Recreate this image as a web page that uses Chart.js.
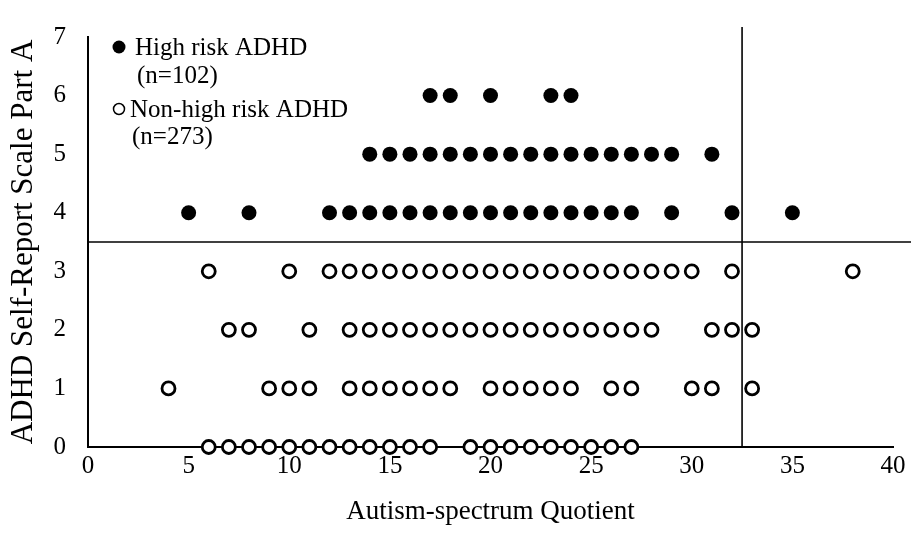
<!DOCTYPE html>
<html>
<head>
<meta charset="utf-8">
<script src="https://cdn.jsdelivr.net/npm/chart.js@4/dist/chart.umd.min.js"></script>
<style>
  html, body { margin: 0; padding: 0; background: #ffffff; }
  #wrap { width: 911px; height: 545px; }
</style>
</head>
<body>
<div id="wrap"><canvas id="c" width="911" height="545"></canvas></div>
<script>
// ---- Data (AQ score on x, ASRS Part A score on y) ----
const highRiskScore6 = [17, 18, 20, 23, 24];
const highRiskScore5 = [14, 15, 16, 17, 18, 19, 20, 21, 22, 23, 24, 25, 26, 27, 28, 29, 31];
const highRiskScore4 = [5, 8, 12, 13, 14, 15, 16, 17, 18, 19, 20, 21, 22, 23, 24, 25, 26, 27, 29, 32, 35];
const nonHighScore3 = [6, 10, 12, 13, 14, 15, 16, 17, 18, 19, 20, 21, 22, 23, 24, 25, 26, 27, 28, 29, 30, 32, 38];
const nonHighScore2 = [7, 8, 11, 13, 14, 15, 16, 17, 18, 19, 20, 21, 22, 23, 24, 25, 26, 27, 28, 31, 32, 33];
const nonHighScore1 = [4, 9, 10, 11, 13, 14, 15, 16, 17, 18, 20, 21, 22, 23, 24, 26, 27, 30, 31, 33];
const nonHighScore0 = [6, 7, 8, 9, 10, 11, 12, 13, 14, 15, 16, 17, 19, 20, 21, 22, 23, 24, 25, 26, 27];

const xTicks = [0, 5, 10, 15, 20, 25, 30, 35, 40];
const yTicks = [0, 1, 2, 3, 4, 5, 6, 7];
const asrsCutoff = 3.5;
const aqCutoff = 32.5;

const legendNames = ['High risk ADHD', 'Non-high risk ADHD'];
const legendCounts = ['(n=102)', '(n=273)'];
const xTitle = 'Autism-spectrum Quotient';
const yTitle = 'ADHD Self-Report Scale Part A';

function rowPoints(xs, score) { return xs.map(x => ({ x: x, y: score })); }

const highRiskPoints = [].concat(
  rowPoints(highRiskScore6, 6),
  rowPoints(highRiskScore5, 5),
  rowPoints(highRiskScore4, 4)
);
const nonHighPoints = [].concat(
  rowPoints(nonHighScore3, 3),
  rowPoints(nonHighScore2, 2),
  rowPoints(nonHighScore1, 1),
  rowPoints(nonHighScore0, 0)
);

const SERIF = '"Liberation Serif", "Times New Roman", serif';

const cutoffLines = {
  id: 'cutoffLines',
  beforeDatasetsDraw(chart) {
    const { ctx, chartArea, scales } = chart;
    const yPix = scales.y.getPixelForValue(asrsCutoff);
    const xPix = scales.x.getPixelForValue(aqCutoff);
    ctx.save();
    ctx.strokeStyle = '#000';
    ctx.lineWidth = 1.6;
    ctx.beginPath();
    ctx.moveTo(chartArea.left, yPix);
    ctx.lineTo(chart.width, yPix);
    ctx.stroke();
    ctx.beginPath();
    ctx.moveTo(xPix, chartArea.top - 10);
    ctx.lineTo(xPix, chartArea.bottom);
    ctx.stroke();
    ctx.restore();
  }
};

const textLegend = {
  id: 'textLegend',
  afterDraw(chart) {
    const { ctx } = chart;
    ctx.save();
    ctx.fillStyle = '#000';
    ctx.strokeStyle = '#000';
    ctx.font = '25px ' + SERIF;
    ctx.textBaseline = 'alphabetic';
    ctx.textAlign = 'left';
    // filled marker
    ctx.beginPath();
    ctx.arc(119, 47, 6.5, 0, Math.PI * 2);
    ctx.fill();
    ctx.fillText(legendNames[0], 135, 55);
    ctx.fillText(legendCounts[0], 137, 83);
    // open marker
    ctx.lineWidth = 1.5;
    ctx.beginPath();
    ctx.arc(119, 109, 5.5, 0, Math.PI * 2);
    ctx.stroke();
    ctx.fillText(legendNames[1], 130, 117);
    ctx.fillText(legendCounts[1], 132, 144);
    ctx.restore();
  }
};

new Chart(document.getElementById('c'), {
  type: 'scatter',
  data: {
    datasets: [
      {
        label: legendNames[0],
        data: highRiskPoints,
        pointRadius: 7.5,
        pointHoverRadius: 7.5,
        backgroundColor: '#000',
        borderColor: '#000',
        borderWidth: 0,
        clip: false
      },
      {
        label: legendNames[1],
        data: nonHighPoints,
        pointRadius: 6.5,
        pointHoverRadius: 6.5,
        backgroundColor: '#fff',
        borderColor: '#000',
        borderWidth: 2.8,
        clip: false
      }
    ]
  },
  options: {
    responsive: false,
    devicePixelRatio: 1,
    animation: false,
    layout: { padding: { top: 20, right: 18, left: 0, bottom: 0 } },
    plugins: { legend: { display: false }, tooltip: { enabled: false } },
    scales: {
      x: {
        type: 'linear',
        min: xTicks[0],
        max: xTicks[xTicks.length - 1],
        afterBuildTicks(scale) { scale.ticks = xTicks.map(v => ({ value: v })); },
        afterFit(scale) { scale.height = 98; },
        grid: { display: false, drawTicks: false },
        border: { display: true, color: '#000', width: 2 },
        ticks: { color: '#000', font: { family: SERIF, size: 25 }, padding: 4, maxRotation: 0 },
        title: { display: true, text: xTitle, color: '#000', font: { family: SERIF, size: 27 }, padding: { top: 0, bottom: 17 } }
      },
      y: {
        type: 'linear',
        min: yTicks[0],
        max: yTicks[yTicks.length - 1],
        afterBuildTicks(scale) { scale.ticks = yTicks.map(v => ({ value: v })); },
        afterFit(scale) { scale.width = 88; },
        grid: { display: false, drawTicks: false },
        border: { display: true, color: '#000', width: 2 },
        ticks: { color: '#000', font: { family: SERIF, size: 25 }, padding: 22 },
        title: { display: true, text: yTitle, color: '#000', font: { family: SERIF, size: 31 }, padding: { top: 5, bottom: 0 } }
      }
    }
  },
  plugins: [cutoffLines, textLegend]
});
</script>
</body>
</html>
